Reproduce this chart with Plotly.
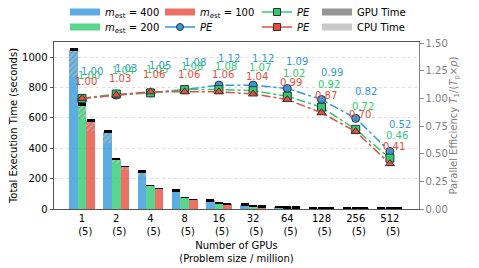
import plotly.graph_objects as go

# ---------------- data ----------------
gpus = ["1", "2", "4", "8", "16", "32", "64", "128", "256", "512"]
problem_size = ["5", "5", "5", "5", "5", "5", "5", "5", "5", "5"]   # million

# GPU (solid) and CPU (hatched) time in seconds, per m_est
gpu_400 = [867, 433, 216, 110, 52, 26, 13, 7.0, 4.0, 3.0]
cpu_400 = [182, 76, 31, 10, 5, 3, 2, 1.5, 1.0, 1.0]
gpu_200 = [596, 296, 144, 72, 36, 18, 9.5, 5.0, 3.0, 2.2]
cpu_200 = [93, 34, 11, 4, 2, 1, 1, 0.8, 0.7, 0.7]
gpu_100 = [516, 260, 128, 61, 32, 16, 8.5, 4.7, 2.8, 2.2]
cpu_100 = [68, 21, 7, 3, 2, 1, 1, 0.8, 0.7, 0.6]
err_400 = [4, 4, 4, 4, 4, 4, 3, 3, 3, 3]
err_200 = [4, None, None, None, 3, 3, 3, 3, 3, 3]
err_100 = [4, None, None, None, 3, 3, 3, 3, 3, 3]

# parallel efficiency
pe_400 = [1.00, 1.03, 1.05, 1.08, 1.12, 1.12, 1.09, 0.99, 0.82, 0.52]
pe_200 = [1.00, 1.04, 1.05, 1.08, 1.08, 1.07, 1.02, 0.92, 0.72, 0.46]
pe_100 = [1.00, 1.03, 1.06, 1.06, 1.06, 1.04, 0.99, 0.87, 0.70, 0.41]

series = [
    dict(name="400", gpu=gpu_400, cpu=cpu_400, err=err_400, pe=pe_400,
         rgb=(52, 152, 219), sym="circle", lsym="circle", dx=10, dy=27),
    dict(name="200", gpu=gpu_200, cpu=cpu_200, err=err_200, pe=pe_200,
         rgb=(46, 204, 113), sym="square", lsym="square", dx=7, dy=23),
    dict(name="100", gpu=gpu_100, cpu=cpu_100, err=err_100, pe=pe_100,
         rgb=(231, 76, 60), sym="triangle-up", lsym="square", dx=4, dy=17),
]

FONT = "DejaVu Sans"
xs = list(range(len(gpus)))
ticktext = [f"{g}<br>\u00a0\u00a0({p})" for g, p in zip(gpus, problem_size)]

def rgba(c, a):
    return f"rgba({c[0]},{c[1]},{c[2]},{a})"

fig = go.Figure()

bar_w = 0.25
for k, s in enumerate(series):
    off = -0.375 + k * bar_w
    fig.add_trace(go.Bar(
        x=xs, y=s["gpu"], offset=off, width=bar_w,
        marker=dict(color=rgba(s["rgb"], 0.8), line=dict(width=0)),
        showlegend=False, hoverinfo="skip"))
    fig.add_trace(go.Bar(
        x=xs, y=s["cpu"], base=s["gpu"], offset=off, width=bar_w,
        marker=dict(color=rgba(s["rgb"], 0.65), line=dict(width=0),
                    pattern=dict(shape="/", fgcolor="rgba(70,70,70,0.55)",
                                 size=4, solidity=0.4, fillmode="overlay")),
        error_y=dict(type="data", array=s["err"], visible=True,
                     color="black", thickness=1.5, width=4),
        showlegend=False, hoverinfo="skip"))

for s in series:
    fig.add_trace(go.Scatter(
        x=xs, y=s["pe"], yaxis="y2", mode="lines+markers",
        line=dict(color=rgba(s["rgb"], 1), width=1.5, dash="dashdot"),
        marker=dict(symbol=s["sym"], size=8, color=rgba(s["rgb"], 1),
                    line=dict(color="#333333", width=1)),
        showlegend=False, hoverinfo="skip"))

# PE value labels
annotations = []
for s in series:
    for i, v in enumerate(s["pe"]):
        annotations.append(dict(
            x=xs[i], y=v, xref="x", yref="y2", text=f"{v:.2f}",
            showarrow=False, xshift=s["dx"], yshift=s["dy"],
            font=dict(family=FONT, size=10, color=rgba(s["rgb"], 1))))

# ---------------- legend (matplotlib-like 4 columns x 2 rows) ----------------
legend_items = [
    ("legend",  "<i>m</i><sub>est</sub> = 400", "patch", rgba(series[0]["rgb"], 0.8), None),
    ("legend2", "<i>m</i><sub>est</sub> = 200", "patch", rgba(series[1]["rgb"], 0.8), None),
    ("legend3", "<i>m</i><sub>est</sub> = 100", "patch", rgba(series[2]["rgb"], 0.8), None),
    ("legend4", "<i>PE</i>", "line", rgba(series[0]["rgb"], 1), series[0]["lsym"]),
    ("legend5", "<i>PE</i>", "line", rgba(series[1]["rgb"], 1), series[1]["lsym"]),
    ("legend6", "<i>PE</i>", "line", rgba(series[2]["rgb"], 1), series[2]["lsym"]),
    ("legend7", "GPU Time", "patch", "rgba(150,150,150,1)", None),
    ("legend8", "CPU Time", "patch", "rgba(200,200,200,1)", None),
]
for lid, label, kind, col, sym in legend_items:
    if kind == "patch":
        fig.add_trace(go.Scatter(
            x=[None], y=[None], mode="lines", name=label, legend=lid,
            line=dict(color=col, width=7), hoverinfo="skip"))
    else:
        fig.add_trace(go.Scatter(
            x=[None], y=[None], mode="lines+markers", name=label, legend=lid,
            line=dict(color=col, width=1.5),
            marker=dict(symbol=sym, size=7, color=col,
                        line=dict(color="#333333", width=1)),
            hoverinfo="skip"))

# page body adds an 8px offset: the figure is drawn from (8, 8)
OFF = 8
L, R, T, B = 54 - OFF, 60, 42 - OFF, 59
W, H = 479 - OFF, 268 - OFF
pw, ph = W - L - R, H - T - B
col_px = [65 - OFF, 160 - OFF, 257 - OFF, 317 - OFF]
row_px = [12 - OFF, 27 - OFF]
legend_layout = {}
for idx, (lid, *_rest) in enumerate(legend_items):
    c, r = idx // 2, idx % 2
    legend_layout[lid] = dict(
        x=(col_px[c] - L) / pw, y=(H - B - row_px[r]) / ph,
        xanchor="left", yanchor="middle", bgcolor="rgba(0,0,0,0)",
        font=dict(family=FONT, size=10, color="black"),
        itemwidth=30, tracegroupgap=0)

fig.update_layout(
    width=W, height=H,
    margin=dict(l=L, r=R, t=T, b=B, autoexpand=False),
    paper_bgcolor="white", plot_bgcolor="white",
    font=dict(family=FONT, size=10, color="black"),
    barmode="overlay", bargap=0,
    annotations=annotations,
    xaxis=dict(
        range=[-0.82, 9.85], tickmode="array", tickvals=xs, ticktext=ticktext,
        showgrid=False, zeroline=False, showline=True, linecolor="#555555",
        linewidth=1, mirror=True, ticks="", tickfont=dict(size=10),
        title=dict(text="Number of GPUs<br>(Problem size / million)",
                   font=dict(size=10), standoff=5)),
    yaxis=dict(
        range=[0, 1100], dtick=200, showgrid=True, gridcolor="#dddddd",
        griddash="dot", gridwidth=1, zeroline=False, showline=True,
        linecolor="#555555", linewidth=1, ticks="outside", ticklen=3.5,
        tickcolor="#555555", tickfont=dict(size=10),
        title=dict(text="Total Execution Time (seconds)", font=dict(size=10),
                   standoff=7)),
    yaxis2=dict(
        overlaying="y", side="right", range=[0, 1.51], dtick=0.25,
        tickformat=".2f", showgrid=False, zeroline=False, showline=True,
        linecolor="#888888", linewidth=1, ticks="outside", ticklen=3.5,
        tickcolor="#888888", tickfont=dict(size=10, color="#808080"),
        title=dict(text="Parallel Efficiency "
                        "<i>T</i><sub>1</sub>/(<i>T</i><sub>p</sub>×<i>p</i>)",
                   font=dict(size=10, color="#808080"), standoff=3)),
    **legend_layout,
)

fig.write_html("out.html")
